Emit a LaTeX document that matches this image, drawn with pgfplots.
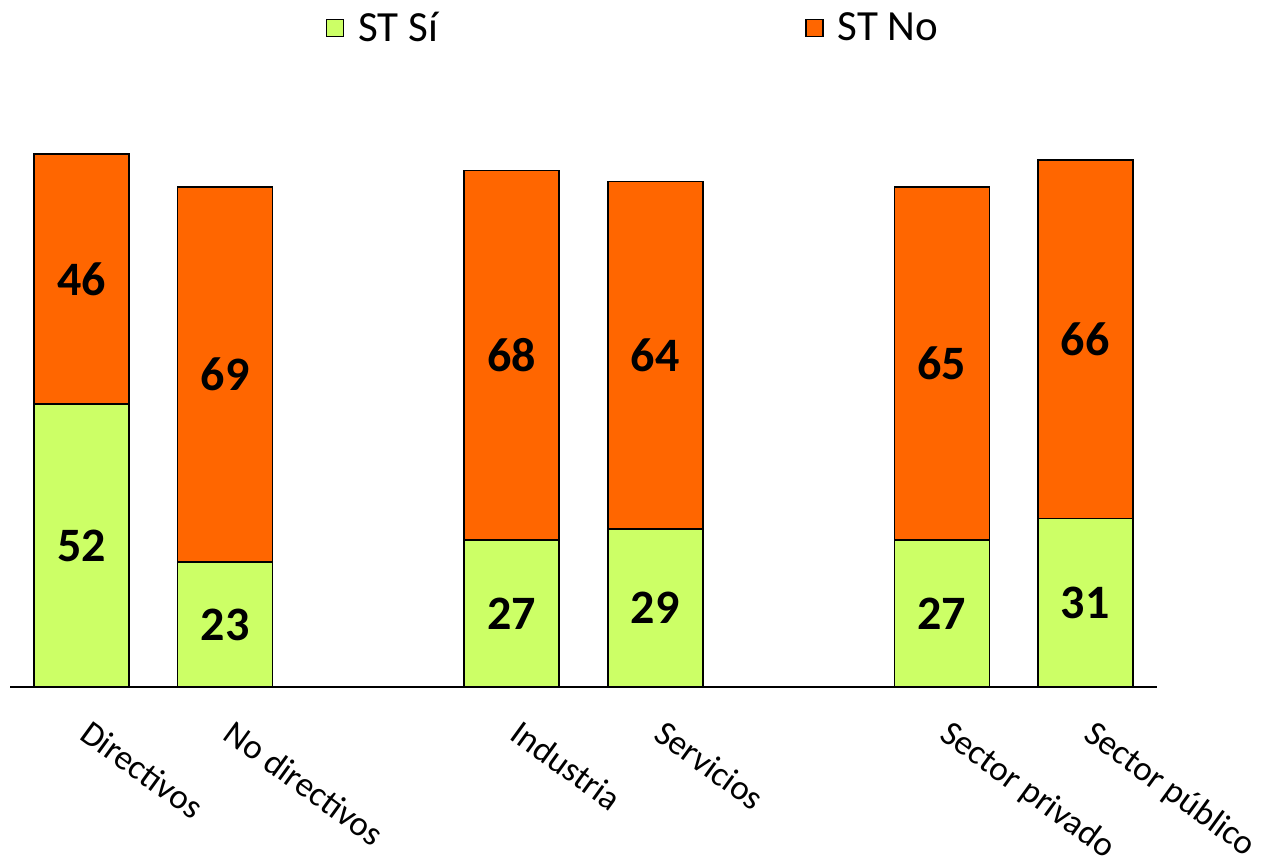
\documentclass[border=0pt]{standalone}
\usepackage{pgfplots}
\pgfplotsset{compat=1.18}
\usepackage{fontspec}
\setmainfont{Carlito}
\definecolor{stsi}{HTML}{CCFF66}
\definecolor{stno}{HTML}{FF6600}
\begin{document}
\begin{tikzpicture}
\begin{axis}[
  scale only axis,
  width=573.5pt, height=299pt,
  ybar stacked, bar width=47.5pt,
  xmin=-0.5, xmax=7.5, ymin=0, ymax=110,
  axis x line*=bottom, axis y line=none,
  x axis line style={line width=0.9pt, -},
  xtick={0,1,3,4,6,7},
  xticklabels={Directivos,No directivos,Industria,Servicios,Sector privado,Sector público},
  major tick length=0pt,
  xticklabel style={font=\fontsize{17.5}{21}\selectfont, rotate=-36, anchor=north west, xshift=10.2pt, yshift=-6pt},
  point meta=explicit,
  /pgf/number format/assume math mode=true,
  nodes near coords={\textbf{\pgfmathprintnumber[assume math mode=true]{\pgfplotspointmeta}}},
  every node near coord/.append style={font=\fontsize{24}{28}\selectfont\bfseries, anchor=center},
  legend columns=2,
  legend style={draw=none, fill=none, at={(0.544,1.102)}, anchor=center,
    font=\fontsize{21.5}{25}\selectfont,
    /tikz/column 2/.style={column sep=181.5pt},
    /tikz/every odd column/.append style={column sep=5pt}},
  legend image code/.code={\draw[#1, line width=0.9pt] (0pt,-4.25pt) rectangle (8.5pt,4.25pt);},
]
\addplot[fill=stsi, draw=black, line width=0.9pt] coordinates {(0,52)[52] (1,23)[23] (3,27)[27] (4,29)[29] (6,27)[27] (7,31)[31]};
\addplot[fill=stno, draw=black, line width=0.9pt] coordinates {(0,46)[46] (1,69)[69] (3,68)[68] (4,64)[64] (6,65)[65] (7,66)[66]};
\legend{ST Sí, ST No}
\end{axis}
\pgfresetboundingbox
\useasboundingbox (-5pt,-89pt) rectangle (629pt,343.5pt);
\end{tikzpicture}
\end{document}
